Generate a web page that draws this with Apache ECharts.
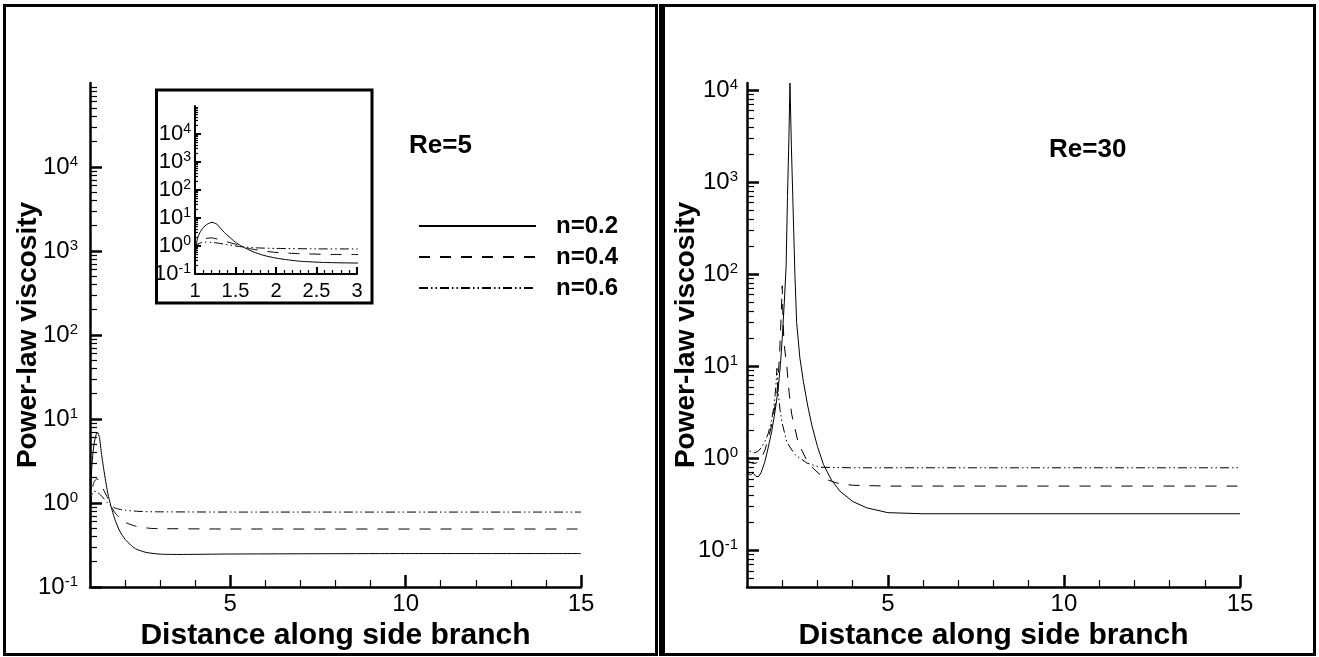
<!DOCTYPE html>
<html>
<head>
<meta charset="utf-8">
<script src="https://cdn.jsdelivr.net/npm/echarts@6/dist/echarts.min.js"></script>
<style>
  html, body { margin: 0; padding: 0; background: #fff; }
  #chart { width: 1319px; height: 657px; }
</style>
</head>
<body>
<div id="chart"></div>
<script>
  'use strict';

  // Re=5, [distance, viscosity]
  var re5N02 = [[1.0,0.12],[1.01,0.8],[1.03,1.8],[1.06,3.0],[1.1,4.5],[1.15,6.0],[1.21,7.0],[1.27,6.0],[1.33,3.8],[1.4,2.4],[1.5,1.35],[1.56,1.05],[1.63,0.82],[1.72,0.62],[1.85,0.46],[2.0,0.37],[2.15,0.32],[2.3,0.285],[2.6,0.258],[3.0,0.246],[3.5,0.244],[5,0.247],[10,0.25],[15,0.25]];
  var re5N04 = [[1.0,0.5],[1.03,1.0],[1.07,1.5],[1.12,1.8],[1.2,1.95],[1.3,1.7],[1.4,1.4],[1.5,1.15],[1.6,0.92],[1.7,0.78],[1.85,0.66],[2.0,0.59],[2.3,0.53],[2.7,0.5],[3.0,0.495],[5,0.49],[15,0.49]];
  var re5N06 = [[1.0,0.9],[1.03,1.15],[1.07,1.3],[1.12,1.38],[1.2,1.35],[1.3,1.25],[1.4,1.12],[1.5,1.0],[1.6,0.92],[1.75,0.86],[2.0,0.82],[2.5,0.79],[3.0,0.785],[5,0.78],[15,0.78]];

  // Re=30
  var re30N02 = [[1.0,0.7],[1.05,0.68],[1.1,0.66],[1.17,0.69],[1.25,0.64],[1.32,0.63],[1.4,0.7],[1.5,0.9],[1.6,1.3],[1.7,1.95],[1.8,3.3],[1.88,5.5],[1.95,10.5],[2.0,20],[2.06,50],[2.11,120],[2.15,700],[2.19,3000],[2.22,12000],[2.26,2500],[2.3,700],[2.36,100],[2.41,30],[2.5,12.5],[2.6,6.9],[2.72,3.8],[2.84,2.3],[3.0,1.35],[3.17,0.86],[3.4,0.58],[3.64,0.44],[4.0,0.34],[4.4,0.29],[5.0,0.257],[6,0.25],[10,0.25],[15,0.25]];
  var re30N04 = [[1.0,0.95],[1.1,0.9],[1.2,0.88],[1.3,0.9],[1.4,1.0],[1.5,1.2],[1.6,1.6],[1.7,2.3],[1.8,3.8],[1.87,6],[1.93,15],[1.97,35],[2.0,75],[2.02,35],[2.05,18],[2.13,10],[2.2,5],[2.27,3.0],[2.46,1.45],[2.7,0.95],[2.88,0.78],[3.2,0.6],[3.55,0.54],[4.0,0.51],[5,0.5],[15,0.5]];
  var re30N06 = [[1.0,1.8],[1.03,1.3],[1.08,1.2],[1.2,1.15],[1.3,1.18],[1.4,1.3],[1.5,1.5],[1.6,1.85],[1.7,2.6],[1.77,3.8],[1.82,6],[1.85,9.5],[1.88,5.5],[1.94,3.3],[2.0,2.4],[2.13,1.5],[2.36,1.1],[2.7,0.89],[3.07,0.8],[4,0.79],[15,0.79]];

  var seriesNames = ['n=0.2', 'n=0.4', 'n=0.6'];

  // ticks
  var xMajor = [5, 10, 15];
  var xMinor = [2, 3, 4, 6, 7, 8, 9, 11, 12, 13, 14];
  var insetXMajor = [1, 1.5, 2, 2.5, 3];
  var insetXMinor = [1.1, 1.2, 1.3, 1.4, 1.6, 1.7, 1.8, 1.9, 2.1, 2.2, 2.3, 2.4, 2.6, 2.7, 2.8, 2.9];
  var yMajor = [0.1, 1, 10, 100, 1000, 10000];
  var decades = [0.01, 0.1, 1, 10, 100, 1000, 10000];
  var minorSteps = [2, 3, 4, 5, 6, 7, 8, 9];

  var FONT = '"Liberation Sans", Arial, Helvetica, sans-serif';
  var dashStyles = ['solid', [11, 10], [9, 3, 1.5, 3, 1.5, 3]];

  function minorLogTicks(min, max) {
    var out = [];
    decades.forEach(function(d) {
      minorSteps.forEach(function(m) {
        var v = +(d * m).toPrecision(6);
        if (v > min && v < max) out.push(v);
      });
    });
    return out;
  }

  function powerLabel(v) {
    var e = Math.round(Math.log(v) / Math.LN10);
    return '{b|10}{s|' + e + '}';
  }

  function powRich(big, small) {
    return {
      b: { fontSize: big, lineHeight: big + 2, fontFamily: FONT, color: '#000' },
      s: { fontSize: small, lineHeight: small + 1, fontFamily: FONT, color: '#000', verticalAlign: 'top' }
    };
  }

  function xAxisPair(grid, min, max, major, minor, opts) {
    var main = {
      gridIndex: grid, type: 'value', min: min, max: max, position: 'bottom',
      axisLine: { show: true, onZero: false, lineStyle: { color: '#000', width: opts.lineWidth } },
      axisTick: { inside: true, length: opts.major, customValues: major, lineStyle: { color: '#000', width: opts.lineWidth } },
      axisLabel: { customValues: major, color: '#000', fontSize: opts.fontSize, fontFamily: FONT, margin: opts.margin },
      splitLine: { show: false }
    };
    if (opts.name) {
      main.name = opts.name;
      main.nameLocation = 'middle';
      main.nameGap = opts.nameGap;
      main.nameTextStyle = { fontSize: 30, fontWeight: 'bold', color: '#000', fontFamily: FONT };
    }
    var sub = {
      gridIndex: grid, type: 'value', min: min, max: max, position: 'bottom',
      axisLine: { show: false },
      axisTick: { inside: true, length: opts.minor, customValues: minor, lineStyle: { color: '#000', width: 1.2 } },
      axisLabel: { show: false },
      splitLine: { show: false }
    };
    return [main, sub];
  }

  function yAxisPair(grid, min, max, opts) {
    var main = {
      gridIndex: grid, type: 'log', logBase: 10, min: min, max: max, position: 'left',
      axisLine: { show: true, onZero: false, lineStyle: { color: '#000', width: opts.lineWidth } },
      axisTick: { inside: true, length: opts.major, customValues: yMajor, lineStyle: { color: '#000', width: opts.lineWidth } },
      axisLabel: { customValues: yMajor, formatter: powerLabel, margin: opts.margin, rich: powRich(opts.big, opts.small) },
      splitLine: { show: false }
    };
    if (opts.name) {
      main.name = opts.name;
      main.nameLocation = 'middle';
      main.nameGap = opts.nameGap;
      main.nameMoveOverlap = false;
      main.nameTextStyle = { fontSize: 28, fontWeight: 'bold', color: '#000', fontFamily: FONT };
    }
    var sub = {
      gridIndex: grid, type: 'log', logBase: 10, min: min, max: max, position: 'left',
      axisLine: { show: false },
      axisTick: { inside: true, length: opts.minor, customValues: minorLogTicks(min, max), lineStyle: { color: '#000', width: 1.2 } },
      axisLabel: { show: false },
      splitLine: { show: false }
    };
    return [main, sub];
  }

  function lineSeries(name, data, idx, axisIdx, smooth) {
    return {
      name: name, type: 'line', data: data,
      xAxisIndex: axisIdx, yAxisIndex: axisIdx,
      symbol: 'none', showSymbol: false, smooth: smooth, clip: true,
      lineStyle: { color: '#000', width: 1, type: dashStyles[idx] },
      itemStyle: { color: '#000' },
      animation: false
    };
  }

  var mainX = { lineWidth: 2.5, major: 12, minor: 7, fontSize: 24, margin: 5, name: 'Distance along side branch', nameGap: 27 };
  var insetX = { lineWidth: 2, major: 7, minor: 4, fontSize: 20, margin: 7 };
  var mainY = { lineWidth: 2.5, major: 12, minor: 7, margin: 12, big: 24, small: 15, name: 'Power-law viscosity', nameGap: 48 };
  var insetY = { lineWidth: 2, major: 6, minor: 3, margin: 4, big: 22, small: 14 };

  // axis index pairs: 0/1 left, 2/3 inset, 4/5 right
  var xAxes = [].concat(
    xAxisPair(0, 1, 15, xMajor, xMinor, mainX),
    xAxisPair(1, 1, 3, insetXMajor, insetXMinor, insetX),
    xAxisPair(2, 1, 15, xMajor, xMinor, mainX)
  );
  var yAxes = [].concat(
    yAxisPair(0, 0.1, 100000, mainY),
    yAxisPair(1, 0.1, 100000, insetY),
    yAxisPair(2, 0.04, 12000, Object.assign({}, mainY, { margin: 9, nameGap: 47 }))
  );

  var re5 = [re5N02, re5N04, re5N06];
  var re30 = [re30N02, re30N04, re30N06];
  var series = [];
  seriesNames.forEach(function(name, i) {
    series.push(lineSeries(name, re5[i], i, 0, 0.2));
    series.push(lineSeries(name, re5[i], i, 2, 0.2));
    series.push(lineSeries(name, re30[i], i, 4, false));
  });

  var chart = echarts.init(document.getElementById('chart'), null, { renderer: 'canvas' });
  chart.setOption({
    animation: false,
    backgroundColor: '#fff',
    textStyle: { fontFamily: FONT },
    grid: [
      { left: 90, top: 83, width: 491, height: 504 },
      { left: 195, top: 106, width: 162, height: 168 },
      { left: 747, top: 83, width: 493, height: 504 }
    ],
    xAxis: xAxes,
    yAxis: yAxes,
    title: [
      { text: 'Re=5', left: 409, top: 133, padding: 0, textStyle: { fontSize: 26, fontWeight: 'bold', color: '#000', fontFamily: FONT } },
      { text: 'Re=30', left: 1049, top: 137, padding: 0, textStyle: { fontSize: 26, fontWeight: 'bold', color: '#000', fontFamily: FONT } }
    ],
    legend: {
      data: seriesNames,
      orient: 'vertical',
      left: 418, top: 214,
      padding: 0,
      itemWidth: 117, itemHeight: 20, itemGap: 7,
      selectedMode: false,
      itemStyle: { opacity: 0 },
      textStyle: { fontSize: 24, fontWeight: 'bold', color: '#000', fontFamily: FONT, lineHeight: 24, padding: [0, 0, 0, 15] }
    },
    graphic: [
      { type: 'rect', z: 100, silent: true, shape: { x: 4.5, y: 5.5, width: 652, height: 649 }, style: { fill: null, stroke: '#000', lineWidth: 3 } },
      { type: 'rect', z: 100, silent: true, shape: { x: 663.5, y: 5.5, width: 651, height: 649 }, style: { fill: null, stroke: '#000', lineWidth: 3 } },
      { type: 'rect', z: 100, silent: true, shape: { x: 659, y: 4, width: 4, height: 652 }, style: { fill: '#000' } },
      { type: 'rect', z: 100, silent: true, shape: { x: 156.5, y: 90, width: 215.5, height: 213 }, style: { fill: null, stroke: '#000', lineWidth: 3 } }
    ],
    series: series
  });
</script>
</body>
</html>
